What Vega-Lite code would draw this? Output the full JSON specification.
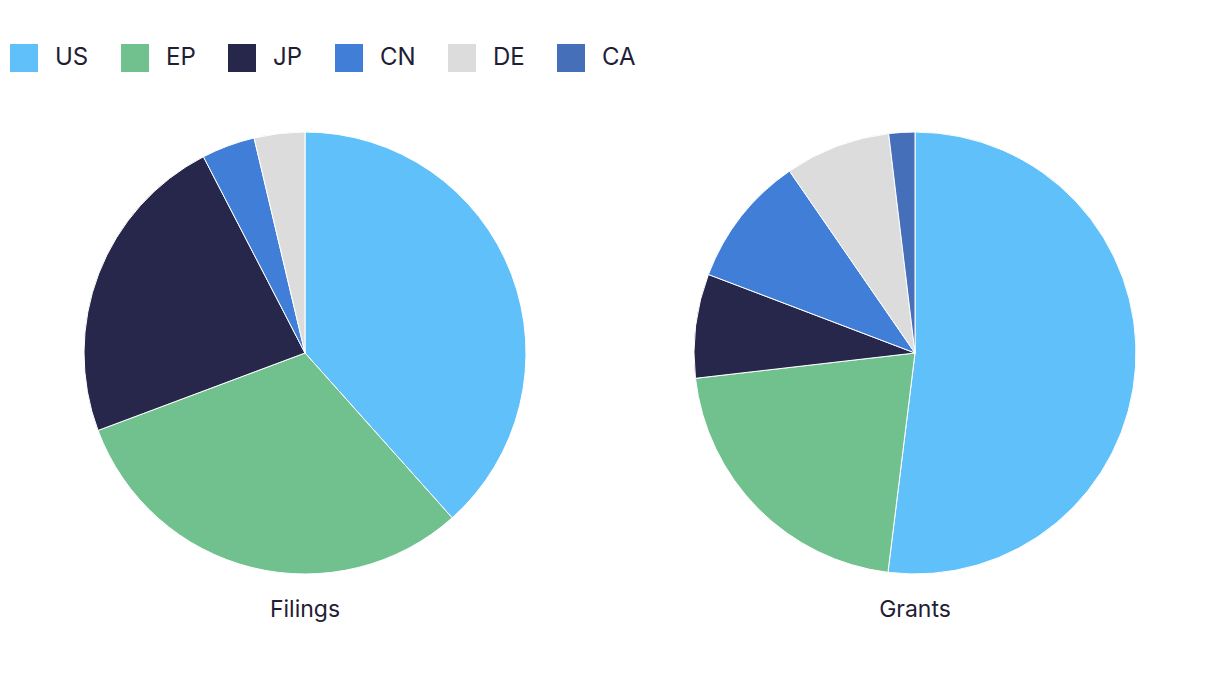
{
  "$schema": "https://vega.github.io/schema/vega-lite/v6.json",
  "padding": {"left": 0, "right": 0, "top": 34, "bottom": 0},
  "background": "white",
  "config": {
    "view": {"stroke": null},
    "font": "Inter",
    "legend": {
      "orient": "top",
      "direction": "horizontal",
      "symbolType": "square",
      "symbolSize": 784,
      "symbolStrokeWidth": 0,
      "symbolOpacity": 1,
      "labelFontSize": 24,
      "labelColor": "#1f2035",
      "labelOffset": 17,
      "columnPadding": 32,
      "padding": 10,
      "offset": 48,
      "title": null
    }
  },
  "data": {
    "values": [
      {"type": "Filings", "office": "US", "rank": 1, "share": 38.4},
      {"type": "Filings", "office": "EP", "rank": 2, "share": 30.9},
      {"type": "Filings", "office": "JP", "rank": 3, "share": 23.1},
      {"type": "Filings", "office": "CN", "rank": 4, "share": 3.9},
      {"type": "Filings", "office": "DE", "rank": 5, "share": 3.7},
      {"type": "Grants", "office": "US", "rank": 1, "share": 51.9},
      {"type": "Grants", "office": "EP", "rank": 2, "share": 21.2},
      {"type": "Grants", "office": "JP", "rank": 3, "share": 7.6},
      {"type": "Grants", "office": "CN", "rank": 4, "share": 9.6},
      {"type": "Grants", "office": "DE", "rank": 5, "share": 7.7},
      {"type": "Grants", "office": "CA", "rank": 6, "share": 1.9}
    ]
  },
  "facet": {
    "column": {
      "field": "type",
      "type": "nominal",
      "sort": ["Filings", "Grants"],
      "header": {
        "title": null,
        "labelOrient": "bottom",
        "labelFontSize": 23,
        "labelColor": "#1f2035",
        "labelPadding": 23,
        "labelFont": "Inter"
      }
    }
  },
  "spacing": 0,
  "spec": {
    "width": 610,
    "height": 442,
    "mark": {"type": "arc", "stroke": "white", "strokeWidth": 1},
    "encoding": {
      "theta": {"field": "share", "type": "quantitative", "stack": true},
      "order": {"field": "rank", "type": "quantitative"},
      "color": {
        "field": "office",
        "type": "nominal",
        "scale": {
          "domain": ["US", "EP", "JP", "CN", "DE", "CA"],
          "range": ["#60c0f9", "#71c18f", "#26274a", "#417ed8", "#dcdcdc", "#456fb8"]
        },
        "legend": {"title": null}
      }
    }
  }
}
